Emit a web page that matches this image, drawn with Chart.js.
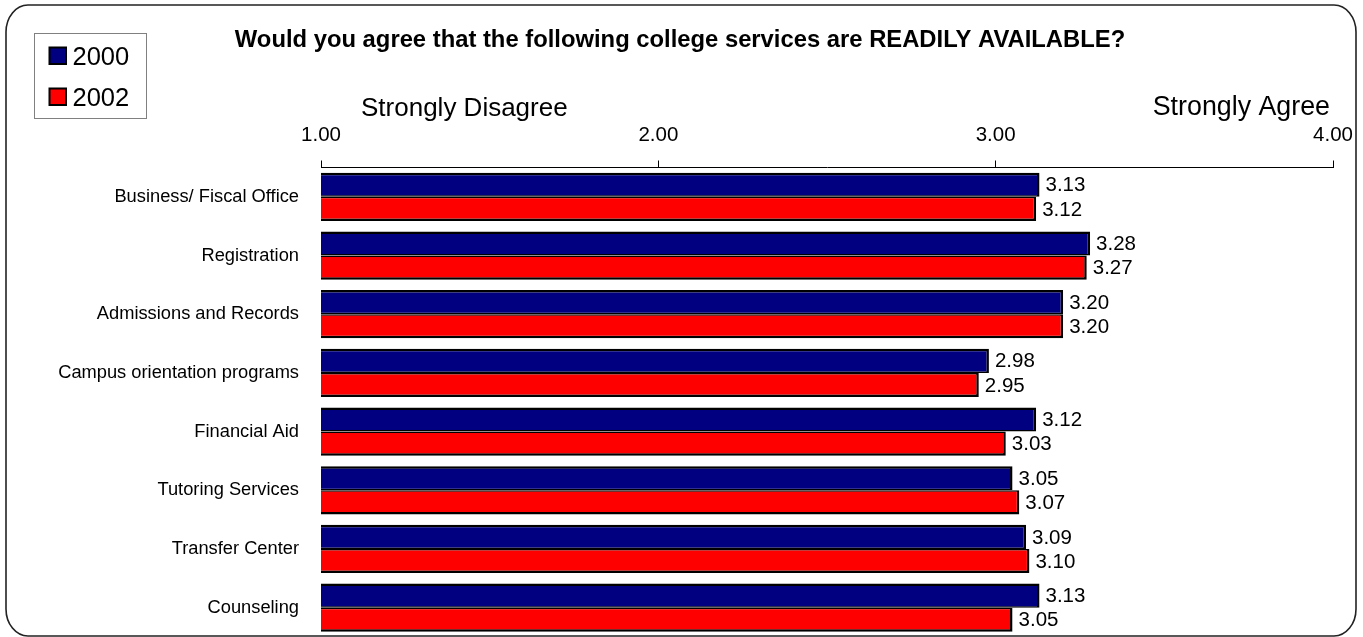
<!DOCTYPE html>
<html>
<head>
<meta charset="utf-8">
<title>College services readily available</title>
<script src="https://cdn.jsdelivr.net/npm/chart.js@4.4.0/dist/chart.umd.min.js"></script>
<style>
    html, body { margin: 0; padding: 0; background: #fff; overflow: hidden; }
    #wrap { position: relative; width: 1363px; height: 637px; }
</style>
</head>
<body>
<div id="wrap"><canvas id="servicesChart"></canvas></div>
<script>
// Chart data
const categories = [
    'Business/ Fiscal Office',
    'Registration',
    'Admissions and Records',
    'Campus orientation programs',
    'Financial Aid',
    'Tutoring Services',
    'Transfer Center',
    'Counseling'
];
const seriesNames = ['2000', '2002'];
const values2000 = [3.13, 3.28, 3.20, 2.98, 3.12, 3.05, 3.09, 3.13];
const values2002 = [3.12, 3.27, 3.20, 2.95, 3.03, 3.07, 3.10, 3.05];
const tickValues = [1, 2, 3, 4];
const tickLabels = ['1.00', '2.00', '3.00', '4.00'];
const scaleEnds = ['Strongly Disagree', 'Strongly Agree'];
const titleText = 'Would you agree that the following college services are READILY AVAILABLE?';

const FONT = 'Arial, "Liberation Sans", sans-serif';
const NAVY = '#000080';
const RED = '#ff0000';

// Rounded frame with elliptical corners
function framePath(ctx, x, y, w, h, rx, ry) {
    ctx.beginPath();
    ctx.moveTo(x + rx, y);
    ctx.lineTo(x + w - rx, y);
    ctx.ellipse(x + w - rx, y + ry, rx, ry, 0, -Math.PI / 2, 0);
    ctx.lineTo(x + w, y + h - ry);
    ctx.ellipse(x + w - rx, y + h - ry, rx, ry, 0, 0, Math.PI / 2);
    ctx.lineTo(x + rx, y + h);
    ctx.ellipse(x + rx, y + h - ry, rx, ry, 0, Math.PI / 2, Math.PI);
    ctx.lineTo(x, y + ry);
    ctx.ellipse(x + rx, y + ry, rx, ry, 0, Math.PI, Math.PI * 1.5);
    ctx.closePath();
}

// Frame, title, legend box and scale end captions
const decorations = {
    id: 'decorations',
    afterDraw(chart) {
        const ctx = chart.ctx;
        ctx.save();

        framePath(ctx, 6, 5, 1350, 631, 22, 27);
        ctx.strokeStyle = '#222';
        ctx.lineWidth = 1.6;
        ctx.stroke();

        ctx.fillStyle = '#000';
        ctx.textBaseline = 'alphabetic';
        ctx.font = 'bold 23.8px ' + FONT;
        ctx.textAlign = 'center';
        ctx.fillText(titleText, 680, 46.5);

        ctx.font = '26px ' + FONT;
        ctx.textAlign = 'left';
        ctx.fillText(scaleEnds[0], 361, 116);
        ctx.font = '26.8px ' + FONT;
        ctx.textAlign = 'right';
        ctx.fillText(scaleEnds[1], 1330, 115);

        // legend
        ctx.strokeStyle = '#808080';
        ctx.lineWidth = 1;
        ctx.strokeRect(34.5, 33.5, 112, 85);
        const colors = [NAVY, RED];
        const rows = [47.5, 88.5];
        const baselines = [65.3, 106.3];
        ctx.font = '25.5px ' + FONT;
        ctx.textAlign = 'left';
        seriesNames.forEach((name, i) => {
            ctx.fillStyle = colors[i];
            ctx.fillRect(49.5, rows[i], 16.5, 16.5);
            ctx.strokeStyle = '#000';
            ctx.lineWidth = 2;
            ctx.strokeRect(49.5, rows[i], 16.5, 16.5);
            ctx.fillStyle = '#000';
            ctx.fillText(name, 72.5, baselines[i]);
        });

        ctx.restore();
    }
};

// Value labels at the end of each bar
const valueLabels = {
    id: 'valueLabels',
    afterDatasetsDraw(chart) {
        const ctx = chart.ctx;
        ctx.save();
        ctx.font = '20.5px ' + FONT;
        ctx.fillStyle = '#000';
        ctx.textAlign = 'left';
        ctx.textBaseline = 'middle';
        chart.data.datasets.forEach((ds, di) => {
            chart.getDatasetMeta(di).data.forEach((bar, i) => {
                ctx.fillText(ds.data[i].toFixed(2), bar.x + 6, bar.y + 1);
            });
        });
        ctx.restore();
    }
};

document.addEventListener('DOMContentLoaded', function() {
    const canvas = document.getElementById('servicesChart');
    new Chart(canvas, {
        type: 'bar',
        data: {
            labels: categories,
            datasets: [{
                label: seriesNames[0],
                data: values2000,
                backgroundColor: NAVY,
                borderColor: '#000',
                borderWidth: { top: 2.5, right: 2.5, bottom: 1.5, left: 2.5 },
                borderSkipped: false
            }, {
                label: seriesNames[1],
                data: values2002,
                backgroundColor: RED,
                borderColor: '#000',
                borderWidth: { top: 1.5, right: 2.5, bottom: 2.5, left: 2.5 },
                borderSkipped: false
            }]
        },
        options: {
            indexAxis: 'y',
            responsive: true,
            maintainAspectRatio: false,
            animation: false,
            categoryPercentage: 0.823,
            barPercentage: 1.0,
            layout: {
                padding: { top: 107.5, right: 30, bottom: 0, left: 0 }
            },
            plugins: {
                legend: { display: false },
                title: { display: false },
                tooltip: { enabled: false }
            },
            scales: {
                x: {
                    position: 'top',
                    min: 1,
                    max: 4,
                    border: { display: true, color: '#000', width: 1 },
                    grid: {
                        drawOnChartArea: false,
                        drawTicks: true,
                        tickLength: 7,
                        color: '#000',
                        lineWidth: 1
                    },
                    ticks: {
                        padding: 13,
                        color: '#000',
                        maxRotation: 0,
                        font: { family: FONT, size: 20.5 },
                        callback: function(value, index) {
                            return tickLabels[index];
                        }
                    },
                    afterBuildTicks: function(scale) {
                        scale.ticks = tickValues.map(v => ({ value: v }));
                    },
                    afterFit: function(scale) {
                        scale.height = 60;
                        scale.paddingLeft = 0;
                        scale.paddingRight = 0;
                    }
                },
                y: {
                    grid: { display: false, drawTicks: false },
                    border: { display: false },
                    ticks: {
                        padding: 22,
                        color: '#000',
                        font: { family: FONT, size: 18.3 }
                    },
                    afterFit: function(scale) {
                        scale.width = 321;
                        scale.paddingTop = 0;
                        scale.paddingBottom = 0;
                    }
                }
            }
        },
        plugins: [valueLabels, decorations]
    });
});
</script>
</body>
</html>
